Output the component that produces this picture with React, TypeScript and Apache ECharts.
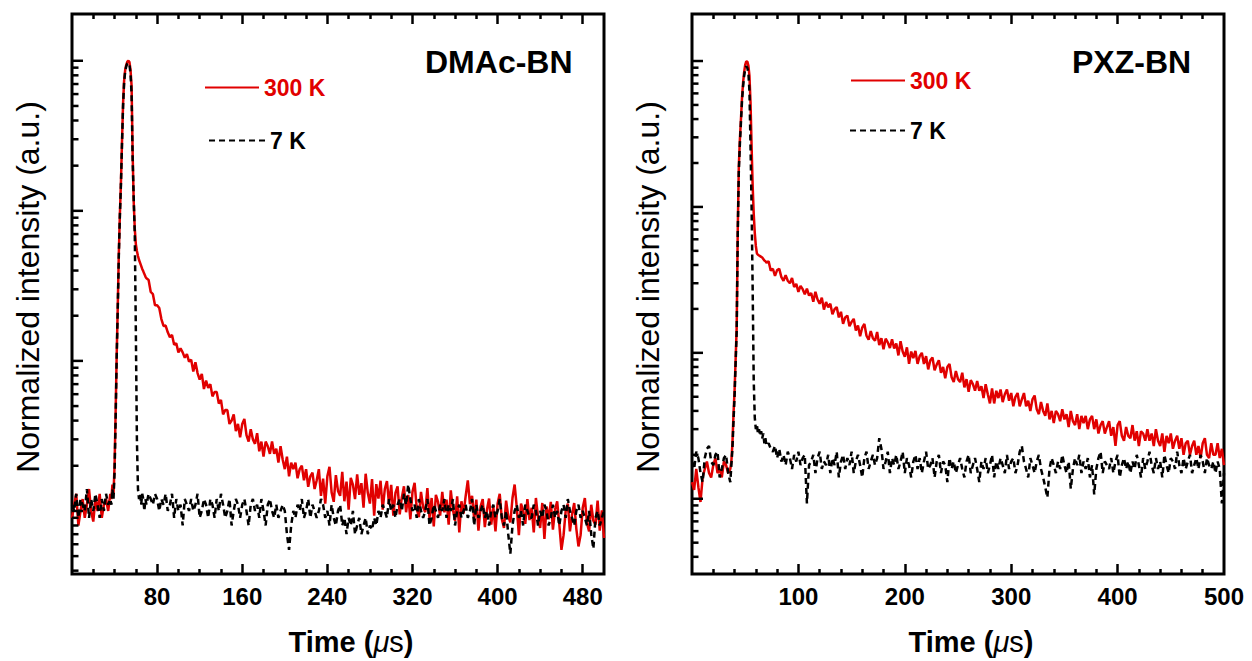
import { useEffect, useRef } from 'react';
import * as echarts from 'echarts';

// Sampling times (µs), shared by all traces
const TIME = [
  0, 2, 4, 6, 8, 10, 12, 14, 16, 18, 20, 22, 24, 26, 28, 30, 32, 34, 36,
  37, 38, 39, 40, 41, 42, 43, 44, 45, 46, 47, 48, 49, 50, 51, 52, 53, 54, 55, 56, 57, 58, 59, 60, 61, 62, 63, 64, 65, 66, 67, 68, 69, 70,
  72, 74, 76, 78, 80, 82, 84, 86, 88, 90,
  92, 94, 96, 98, 100, 102, 104, 106, 108, 110,
  112, 114, 116, 118, 120, 122, 124, 126, 128, 130,
  132, 134, 136, 138, 140, 142, 144, 146, 148, 150,
  152, 154, 156, 158, 160, 162, 164, 166, 168, 170,
  172, 174, 176, 178, 180, 182, 184, 186, 188, 190,
  192, 194, 196, 198, 200, 202, 204, 206, 208, 210,
  212, 214, 216, 218, 220, 222, 224, 226, 228, 230,
  232, 234, 236, 238, 240, 242, 244, 246, 248, 250,
  252, 254, 256, 258, 260, 262, 264, 266, 268, 270,
  272, 274, 276, 278, 280, 282, 284, 286, 288, 290,
  292, 294, 296, 298, 300, 302, 304, 306, 308, 310,
  312, 314, 316, 318, 320, 322, 324, 326, 328, 330,
  332, 334, 336, 338, 340, 342, 344, 346, 348, 350,
  352, 354, 356, 358, 360, 362, 364, 366, 368, 370,
  372, 374, 376, 378, 380, 382, 384, 386, 388, 390,
  392, 394, 396, 398, 400, 402, 404, 406, 408, 410,
  412, 414, 416, 418, 420, 422, 424, 426, 428, 430,
  432, 434, 436, 438, 440, 442, 444, 446, 448, 450,
  452, 454, 456, 458, 460, 462, 464, 466, 468, 470,
  472, 474, 476, 478, 480, 482, 484, 486, 488, 490,
  492, 494, 496, 498, 500,
];

// DMAc-BN, 300 K (counts)
const DMAC_300K = [
  9, 11, 13, 8, 10, 12, 9, 11, 14, 10, 8.5, 12, 10, 13, 9, 11, 12, 10, 13,
  12, 15, 13, 20, 45, 110, 230, 520, 950, 1550, 2900, 5200, 7400, 8700, 9400, 9850, 10000, 9800, 8700, 6800, 2400, 1150, 760, 600, 540, 500, 470, 450, 430, 410, 395, 380, 365, 355,
  346, 288, 279, 235, 235, 225, 190, 171, 172, 155,
  144, 149, 128, 131, 114, 121, 114, 105, 111, 99,
  102, 85, 98, 83, 75, 82, 65, 74, 66, 70,
  58, 62, 62, 52, 55, 44, 47, 47, 38, 40,
  44, 34, 38, 31, 38, 41, 32, 29, 35, 30,
  28, 33, 25, 29, 23, 29, 27, 24, 29, 24,
  26, 21, 27, 22, 19, 23, 17, 21, 19, 21,
  16.5, 19, 20, 16, 19, 14.5, 17, 18, 14, 16,
  19, 12.6, 16.4, 11.2, 17, 19.7, 13.3, 11.5, 17.3, 13.6,
  12.6, 18.2, 11.6, 15.7, 10.2, 16.6, 15, 12, 17.5, 12.8,
  15.3, 10.5, 17.7, 13.2, 11.2, 16.3, 9.3, 15.1, 12.1, 15.9,
  10.2, 14, 15.8, 11, 14.9, 9.3, 13.2, 14.6, 9.5, 12.3,
  14.6, 9.8, 12.8, 8.8, 13.4, 15.4, 10.4, 9.1, 13.4, 10.6,
  9.8, 14.2, 9, 12.2, 7.9, 12.8, 11.5, 9.3, 13.4, 9.8,
  11.9, 8.1, 13.7, 10.2, 8.6, 12.5, 7.2, 11.6, 9.6, 12.6,
  16, 11.1, 12.6, 8.8, 11.9, 7.4, 10.7, 12, 7.8, 10.2,
  12.1, 8.1, 10.6, 7.3, 11.2, 13, 8.8, 7.7, 11.7, 9.2,
  8.4, 12.2, 15, 10.6, 6.9, 11.2, 10.1, 8.2, 12, 8.7,
  10.5, 7.2, 12.2, 9.1, 7.7, 11.3, 6.5, 10.7, 8.8, 11.5,
  7.5, 10.2, 11.6, 8.1, 5.5, 6.9, 10, 11.2, 7.3, 9.5,
  11.3, 7.6, 5.8, 6.9, 10.5, 12.2, 8.3, 7.3, 11, 8.6,
  8.1, 11.7, 7.4, 10.1, 6.6,
];

// DMAc-BN, 7 K (counts)
const DMAC_7K = [
  11, 10, 13, 9, 12, 11, 10, 14, 9, 12, 10, 13, 11, 9, 12, 10, 13, 11, 12,
  11, 14, 12, 18, 40, 105, 220, 500, 930, 1500, 2800, 5000, 7200, 8500, 9200, 9600, 9700, 9400, 8200, 6000, 2200, 1200, 700, 160, 30, 14, 12, 13, 11, 13, 12, 10, 12, 11,
  13, 12, 11, 13, 12, 10, 12, 11, 13, 10,
  11, 13, 9, 12, 10, 11, 8, 12, 11, 10,
  12, 10, 11, 13, 9, 10, 12, 11, 9, 12,
  11, 9, 12, 10, 13, 11, 9, 10, 12, 8,
  10, 12, 11, 9, 11, 12, 10, 8, 11, 12,
  10, 11, 9, 12, 10, 8, 11, 12, 10, 9,
  11, 9, 10, 11, 10, 7, 5.5, 8, 10, 9,
  11, 10, 12, 9, 10, 12, 9, 11, 10, 9,
  10, 12, 11, 9, 10, 8, 11, 9, 8, 10,
  11, 8, 9, 7, 9, 8, 10, 7, 8, 9,
  7, 8, 9, 7, 8, 7.5, 9, 8, 10, 9,
  11, 10, 9, 12, 10, 11, 9, 11, 12, 10,
  13, 11, 15, 12, 10, 11, 9, 12, 10, 9,
  10, 12, 8, 9, 11, 10, 9, 11, 10, 12,
  9, 11, 10, 12, 8, 10, 11, 9, 10, 11,
  9, 10, 12, 8, 11, 9, 10, 11, 9, 10,
  8, 10, 11, 9, 10, 12, 9, 8, 10, 7,
  5.2, 8, 10, 11, 9, 10, 8, 11, 10, 9,
  9, 11, 10, 8, 10, 9, 11, 10, 8, 9,
  11, 9, 10, 8, 10, 11, 9, 12, 10, 9,
  8, 10, 11, 9, 10, 9, 8, 10, 7, 5.6,
  9, 10, 8, 9, 10,
];

// PXZ-BN, 300 K (counts)
const PXZ_300K = [
  13, 11.5, 16, 12, 9.5, 14, 16, 18, 15, 14, 17, 19, 15, 16, 14, 18, 17, 15, 16,
  18, 24, 38, 55, 90, 150, 700, 1900, 2900, 4000, 5600, 7100, 8400, 9400, 9950, 9900, 9300, 7900, 5200, 2600, 1400, 900, 665, 540, 480, 470, 465, 460, 455, 450, 440, 430, 425, 415,
  424, 366, 377, 337, 369, 376, 330, 312, 341, 312,
  300, 326, 283, 297, 262, 288, 273, 252, 275, 247,
  257, 224, 262, 232, 217, 239, 198, 223, 205, 217,
  184, 199, 206, 175, 191, 158, 175, 180, 152, 163,
  171, 142, 154, 130, 149, 158, 131, 123, 141, 126,
  121, 139, 113, 126, 106, 125, 118, 108, 124, 107,
  116, 96, 120, 102, 94, 109, 84, 102, 92, 103,
  84, 95, 100, 84, 95, 77, 89, 93, 76, 83,
  89, 73, 80, 67, 80, 84, 68, 63, 75, 66,
  63, 73, 58, 66, 54, 65, 61, 55, 64, 55,
  59, 49, 61, 52, 45, 57, 45, 55, 49, 56,
  46, 52, 56, 47, 53, 43, 50, 53, 43, 48,
  53, 43, 47, 40, 48, 51, 41, 38, 46, 40,
  37, 45, 35, 40, 33, 40, 38, 34, 41, 35,
  38, 31, 40, 34, 32, 38, 30, 37, 33, 37,
  30, 35, 37, 30, 35, 28, 32, 34, 28, 31,
  34, 27, 31, 23, 32, 34, 27, 25, 31, 27,
  26, 32, 25, 29, 23, 29, 28, 25, 30, 25,
  28, 23, 30, 25, 23, 28, 21, 27, 24, 28,
  22, 25, 27, 22, 26, 20, 24, 25, 20, 23,
  25, 20, 23, 19, 24, 26, 20, 19, 24, 20,
  20, 24, 19, 22, 17,
];

// PXZ-BN, 7 K (counts)
const PXZ_7K = [
  18, 16, 21, 19, 15, 13, 19, 22, 23, 18, 17, 20, 21, 14, 16, 19, 20, 15, 13,
  17, 22, 34, 50, 85, 140, 650, 1750, 2700, 3800, 5300, 6700, 7900, 8800, 9200, 9000, 8300, 6200, 2600, 1000, 280, 65, 36, 30, 32, 28, 30, 27, 29, 26, 28, 24, 26, 23,
  24, 22, 21, 23, 19, 22, 18, 20, 17, 21,
  19, 16, 20, 18, 21, 17, 19, 20, 9.3, 17,
  18, 20, 15, 19, 21, 16, 18, 17, 20, 15,
  19, 17, 21, 14, 18, 20, 16, 19, 17, 21,
  15, 18, 20, 17, 14, 19, 21, 16, 18, 20,
  17, 19, 26, 22, 16, 18, 21, 15, 19, 17,
  20, 16, 18, 21, 15, 19, 17, 14, 18, 20,
  16, 19, 15, 18, 21, 16, 17, 19, 14, 18,
  20, 15, 18, 17, 13, 19, 16, 18, 15, 17,
  19, 16, 14, 18, 20, 15, 17, 19, 16, 13,
  18, 16, 19, 15, 17, 20, 14, 18, 16, 19,
  17, 15, 20, 16, 18, 19, 15, 17, 21, 23,
  18, 16, 14, 19, 17, 15, 18, 20, 16, 14,
  12, 10.2, 16, 19, 17, 15, 18, 16, 20, 17,
  15, 18, 11.7, 16, 19, 17, 20, 15, 18, 16,
  19, 14, 17, 10.7, 16, 19, 21, 15, 18, 17,
  16, 19, 15, 18, 20, 14, 17, 19, 16, 18,
  15, 18, 16, 20, 17, 14, 19, 16, 18, 21,
  17, 15, 19, 16, 18, 14, 20, 17, 15, 19,
  18, 16, 21, 17, 15, 19, 16, 18, 20, 15,
  17, 19, 16, 20, 18, 15, 19, 17, 16, 18,
  15, 18, 16, 9.3, 15,
];

// Tick values
const LEFT_X_LABELS = [80, 160, 240, 320, 400, 480];
const LEFT_X_MAJOR = [80, 160, 240, 320, 400, 480];
const LEFT_X_MINOR = [20, 40, 60, 100, 120, 140, 180, 200, 220, 260, 280, 300, 340, 360, 380, 420, 440, 460];
const RIGHT_X_LABELS = [100, 200, 300, 400, 500];
const RIGHT_X_MAJOR = [100, 200, 300, 400];
const RIGHT_X_MINOR = [20, 40, 60, 80, 120, 140, 160, 180, 220, 240, 260, 280, 320, 340, 360, 380, 420, 440, 460, 480];
const Y_MAJOR = [10, 100, 1000, 10000];
const Y_MINOR = [4, 5, 6, 7, 8, 9, 20, 30, 40, 50, 60, 70, 80, 90, 200, 300, 400, 500, 600, 700, 800, 900, 2000, 3000, 4000, 5000, 6000, 7000, 8000, 9000];

const RED = '#e10000';
const FONT = '"Liberation Sans", Arial, Helvetica, sans-serif';

function pairs(vals: number[]) {
  return TIME.map((t, i) => [t, vals[i]]);
}

function xAxes(gridIndex: number, majors: number[], minors: number[], labels: number[]) {
  const base = {
    type: 'value', gridIndex, min: 0, max: 500,
    axisLine: { show: false, onZero: false },
    splitLine: { show: false },
  };
  const tickStyle = { color: '#000', width: 2.5 };
  return [
    {
      ...base, position: 'bottom',
      axisTick: { show: true, inside: true, length: 10, customValues: majors, lineStyle: tickStyle },
      axisLabel: { show: true, customValues: labels, margin: 10, fontSize: 24, fontWeight: 'bold', color: '#000', fontFamily: FONT },
    },
    {
      ...base, position: 'bottom',
      axisTick: { show: true, inside: true, length: 5, customValues: minors, lineStyle: tickStyle },
      axisLabel: { show: false },
    },
    {
      ...base, position: 'top',
      axisTick: { show: true, inside: true, length: 10, customValues: majors, lineStyle: tickStyle },
      axisLabel: { show: false },
    },
    {
      ...base, position: 'top',
      axisTick: { show: true, inside: true, length: 5, customValues: minors, lineStyle: tickStyle },
      axisLabel: { show: false },
    },
  ];
}

function yTickSeries(xAxisIndex: number, yAxisIndex: number) {
  return {
    type: 'custom',
    coordinateSystem: 'cartesian2d',
    xAxisIndex, yAxisIndex,
    silent: true,
    z: 5,
    data: [...Y_MAJOR.map((v) => [0, v, 1]), ...Y_MINOR.map((v) => [0, v, 0])],
    renderItem: (_params: any, api: any) => {
      const p = api.coord([api.value(0), api.value(1)]);
      const len = api.value(2) ? 11 : 6.5;
      return {
        type: 'line',
        shape: { x1: p[0], y1: p[1], x2: p[0] + len, y2: p[1] },
        style: { stroke: '#000', lineWidth: 2.5 },
      };
    },
  };
}

function legendItem(name: string, color: string, left: number, top: number, width: number) {
  return {
    data: [{ name, textStyle: { color } }],
    left, top,
    padding: 0,
    itemWidth: width,
    itemHeight: 14,
    selectedMode: false,
    itemStyle: { opacity: 0 },
    textStyle: { fontSize: 23, fontWeight: 'bold', fontFamily: FONT, color },
  };
}

function timeTitle(x: number) {
  const st = { fontSize: 29, fontFamily: FONT, fill: '#000' };
  return {
    type: 'text', x, y: 642, silent: true,
    style: {
      text: '{b|Time (}{i|μ}{r|s}{b|)}',
      align: 'center', verticalAlign: 'middle',
      rich: {
        b: { ...st, fontWeight: 'bold' },
        i: { ...st, fontStyle: 'italic' },
        r: { ...st },
      },
    },
  };
}

function yTitle(x: number) {
  return {
    type: 'text', x, y: 287, rotation: Math.PI / 2, silent: true,
    style: {
      text: 'Normalized intensity (a.u.)',
      fontSize: 32, fontFamily: FONT, fill: '#000',
      align: 'center', verticalAlign: 'middle',
    },
  };
}

function panelLabel(text: string, x: number) {
  return {
    type: 'text', x, y: 62, silent: true,
    style: { text, fontSize: 32, fontWeight: 'bold', fontFamily: FONT, fill: '#000', align: 'left', verticalAlign: 'middle' },
  };
}

export default function App() {
  const ref = useRef<HTMLDivElement>(null);

  useEffect(() => {
    document.body.style.margin = '0';
    if (!ref.current) return;
    const chart = echarts.init(ref.current, undefined, { renderer: 'svg' });
    const gridBase = { top: 14, width: 532, height: 560, show: true, borderColor: '#000', borderWidth: 3, backgroundColor: 'transparent' };
    chart.setOption({
      animation: false,
      backgroundColor: '#fff',
      grid: [
        { ...gridBase, left: 72 },
        { ...gridBase, left: 692 },
      ],
      xAxis: [
        ...xAxes(0, LEFT_X_MAJOR, LEFT_X_MINOR, LEFT_X_LABELS),
        ...xAxes(1, RIGHT_X_MAJOR, RIGHT_X_MINOR, RIGHT_X_LABELS),
      ],
      yAxis: [
        { type: 'log', logBase: 10, gridIndex: 0, min: 3.8, max: 20500, position: 'left',
          axisLine: { show: false }, axisTick: { show: false }, axisLabel: { show: false }, splitLine: { show: false } },
        { type: 'log', logBase: 10, gridIndex: 1, min: 3.05, max: 21000, position: 'left',
          axisLine: { show: false }, axisTick: { show: false }, axisLabel: { show: false }, splitLine: { show: false } },
      ],
      legend: [
        legendItem('300 K', RED, 204, 76, 54),
        legendItem('7 K', '#000', 208, 129, 56),
        legendItem('300 K', RED, 850, 69, 54),
        legendItem('7 K', '#000', 849, 119, 55),
      ],
      series: [
        { type: 'line', name: '300 K', xAxisIndex: 0, yAxisIndex: 0, data: pairs(DMAC_300K), symbol: 'none', showSymbol: false,
          lineStyle: { color: RED, width: 2.5 }, itemStyle: { color: RED }, z: 2 },
        { type: 'line', name: '7 K', xAxisIndex: 0, yAxisIndex: 0, data: pairs(DMAC_7K), symbol: 'none', showSymbol: false,
          lineStyle: { color: '#000', width: 2.5, type: [6, 4] }, itemStyle: { color: '#000' }, z: 3 },
        { type: 'line', name: '300 K', xAxisIndex: 4, yAxisIndex: 1, data: pairs(PXZ_300K), symbol: 'none', showSymbol: false,
          lineStyle: { color: RED, width: 2.5 }, itemStyle: { color: RED }, z: 2 },
        { type: 'line', name: '7 K', xAxisIndex: 4, yAxisIndex: 1, data: pairs(PXZ_7K), symbol: 'none', showSymbol: false,
          lineStyle: { color: '#000', width: 2.5, type: [6, 4] }, itemStyle: { color: '#000' }, z: 3 },
        yTickSeries(0, 0),
        yTickSeries(4, 1),
      ],
      graphic: [
        yTitle(28),
        yTitle(648),
        timeTitle(351),
        timeTitle(971),
        panelLabel('DMAc-BN', 425),
        panelLabel('PXZ-BN', 1072),
      ],
    });
    return () => chart.dispose();
  }, []);

  return <div ref={ref} style={{ width: 1252, height: 661 }} />;
}
